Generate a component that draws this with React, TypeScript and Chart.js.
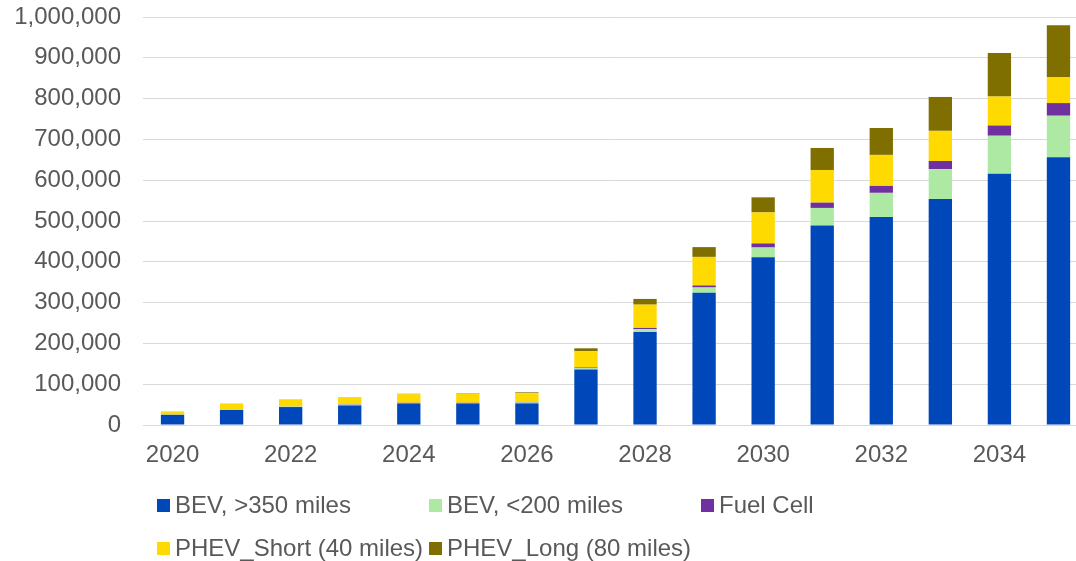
import React, { useEffect, useRef } from "react";
import { Chart, registerables } from "chart.js";

Chart.register(...registerables);

const years = ["2020", "2021", "2022", "2023", "2024", "2025", "2026", "2027", "2028", "2029", "2030", "2031", "2032", "2033", "2034", "2035"];

const bevLongRange = [25000, 37000, 44000, 48000, 53000, 53000, 53000, 136000, 228000, 324000, 411000, 489000, 510000, 554000, 616000, 656000];
const bevShortRange = [500, 500, 1000, 2000, 1000, 1000, 2000, 3000, 7000, 13000, 24000, 43000, 59000, 73000, 93000, 102000];
const fuelCell = [0, 0, 300, 1000, 500, 500, 1000, 2000, 3000, 5000, 10000, 13000, 17000, 20000, 25000, 31000];
const phevShort = [8000, 14000, 17000, 17000, 21000, 22000, 22000, 40000, 57000, 70000, 76000, 80000, 76000, 74000, 71000, 64000];
const phevLong = [0, 500, 500, 500, 1000, 1000, 2000, 7000, 14000, 24000, 37000, 54000, 66000, 83000, 107000, 127000];

const yTicks = { min: 0, max: 1000000, step: 100000 };

const series = [
  { label: "BEV, >350 miles", data: bevLongRange, color: "#0048BA" },
  { label: "BEV, <200 miles", data: bevShortRange, color: "#ADE9A2" },
  { label: "Fuel Cell", data: fuelCell, color: "#7030A0" },
  { label: "PHEV_Short (40 miles)", data: phevShort, color: "#FFDA00" },
  { label: "PHEV_Long (80 miles)", data: phevLong, color: "#7F6F00" },
];

// legend grid: [left of swatch, row center]
const legendSlots = [
  [157, 505],
  [429, 505],
  [701, 505],
  [157, 548],
  [429, 548],
];

const FONT = "'Liberation Sans', Arial, sans-serif";
const TEXT = "#595959";
const FONT_SIZE = 24;

export default function App() {
  const ref = useRef<HTMLCanvasElement | null>(null);

  useEffect(() => {
    if (!ref.current) return;
    const chart = new Chart(ref.current, {
      type: "bar",
      data: {
        labels: years,
        datasets: series.map((s) => ({
          label: s.label,
          data: s.data,
          backgroundColor: s.color,
          borderWidth: 0,
          categoryPercentage: 1,
          barPercentage: 0.395,
        })),
      },
      options: {
        responsive: false,
        animation: false,
        layout: { padding: { left: 0, right: 0, top: 0, bottom: 86 } },
        plugins: { legend: { display: false }, tooltip: { enabled: false } },
        scales: {
          x: {
            stacked: true,
            grid: { display: false },
            border: { display: false },
            ticks: {
              color: TEXT,
              font: { family: FONT, size: FONT_SIZE },
              padding: 8,
              maxRotation: 0,
              autoSkip: false,
              callback: (_v: any, i: number) => (i % 2 === 0 ? years[i] : ""),
            },
            afterFit: (scale: any) => {
              scale.height = 50;
            },
          },
          y: {
            stacked: true,
            min: yTicks.min,
            max: yTicks.max,
            grid: { color: "#d9d9d9", lineWidth: 1, drawTicks: false },
            border: { display: false },
            ticks: {
              stepSize: yTicks.step,
              color: TEXT,
              font: { family: FONT, size: FONT_SIZE },
              padding: 22,
              callback: (v: any) => Number(v).toLocaleString("en-US"),
            },
            afterFit: (scale: any) => {
              scale.width = 143;
              scale.paddingTop = 17;
            },
          },
        },
      },
    });
    return () => chart.destroy();
  }, []);

  return (
    <div style={{ position: "absolute", left: 0, top: 0, width: 1076, height: 561, overflow: "hidden", background: "#fff" }}>
      <canvas ref={ref} width={1088} height={561} style={{ width: 1088, height: 561, display: "block" }} />
      {series.map((s, i) => {
        const [x, cy] = legendSlots[i];
        return (
          <React.Fragment key={s.label}>
            <div style={{ position: "absolute", left: x, top: cy - 6, width: 12.5, height: 12.5, background: s.color }} />
            <div
              style={{
                position: "absolute",
                left: x + 18,
                top: cy - 13,
                lineHeight: "26px",
                fontSize: FONT_SIZE,
                fontFamily: FONT,
                color: TEXT,
                whiteSpace: "nowrap",
              }}
            >
              {s.label}
            </div>
          </React.Fragment>
        );
      })}
    </div>
  );
}
